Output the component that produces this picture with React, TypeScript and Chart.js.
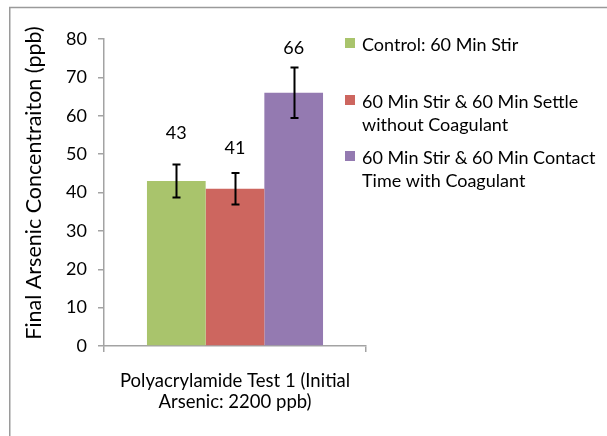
import React, { useEffect, useRef } from "react";
import { Chart, registerables } from "chart.js";

Chart.register(...registerables);

// ---------- data ----------
const categoryLabel = ["Polyacrylamide Test 1 (Initial", "Arsenic: 2200 ppb)"];
const seriesNames = [
  ["Control: 60 Min Stir"],
  ["60 Min Stir & 60 Min Settle", "without Coagulant"],
  ["60 Min Stir & 60 Min Contact", "Time with Coagulant"],
];
const seriesValues = [43, 41, 66];
const seriesErrors = [4.3, 4.1, 6.6];
const seriesColors = ["#A9C46C", "#CD665F", "#947AB1"];
const yTitle = "Final Arsenic Concentraiton (ppb)";
const yMin = 0;
const yMax = 80;
const yStep = 10;

const FONT = "Lato, 'Open Sans', sans-serif";
const AXIS_COLOR = "#a3a3a3";

const decorPlugin = {
  id: "decor",
  beforeDraw(chart: any) {
    const ctx = chart.ctx;
    ctx.save();
    ctx.fillStyle = "#ffffff";
    ctx.fillRect(0, 0, chart.width, chart.height);
    ctx.strokeStyle = "#9a9a9a";
    ctx.lineWidth = 1.5;
    ctx.beginPath();
    ctx.moveTo(9.75, chart.height + 5);
    ctx.lineTo(9.75, 7.5);
    ctx.lineTo(chart.width + 5, 7.5);
    ctx.stroke();
    ctx.restore();
  },
  afterDatasetsDraw(chart: any, _args: any, opts: any) {
    const ctx = chart.ctx;
    const yScale = chart.scales.y;
    ctx.save();
    chart.data.datasets.forEach((ds: any, i: number) => {
      const meta = chart.getDatasetMeta(i);
      const bar: any = meta.data[0];
      if (!bar) return;
      const v = ds.data[0];
      const e = seriesErrors[i];
      const x = Math.round(bar.x) + 0.5;
      const yTop = yScale.getPixelForValue(v + e);
      const yBot = yScale.getPixelForValue(v - e);
      ctx.strokeStyle = "#000";
      ctx.lineWidth = 2;
      ctx.beginPath();
      ctx.moveTo(x, yTop);
      ctx.lineTo(x, yBot);
      ctx.moveTo(x - 4, yTop);
      ctx.lineTo(x + 4, yTop);
      ctx.moveTo(x - 4, yBot);
      ctx.lineTo(x + 4, yBot);
      ctx.stroke();
      ctx.fillStyle = "#000";
      ctx.font = `18px ${FONT}`;
      ctx.textAlign = "center";
      ctx.textBaseline = "middle";
      ctx.fillText(String(v), bar.x, yTop - opts.labelOffsets[i]);
    });
    ctx.restore();
  },
  afterDraw(chart: any) {
    const ctx = chart.ctx;
    ctx.save();
    // y-axis title
    ctx.translate(34, 183);
    ctx.rotate(-Math.PI / 2);
    ctx.fillStyle = "#000";
    ctx.font = `21.5px ${FONT}`;
    ctx.textAlign = "center";
    ctx.textBaseline = "middle";
    ctx.fillText(yTitle, 0, 0);
    ctx.restore();

    // legend
    ctx.save();
    ctx.font = `18px ${FONT}`;
    ctx.textAlign = "left";
    ctx.textBaseline = "middle";
    const starts = [45, 102, 158];
    const lineH = 23;
    seriesNames.forEach((lines, i) => {
      const y0 = starts[i];
      ctx.fillStyle = seriesColors[i];
      ctx.fillRect(345, y0 - 7, 10, 10);
      ctx.fillStyle = "#000";
      lines.forEach((t, j) => ctx.fillText(t, 362, y0 + j * lineH));
    });
    ctx.restore();
  },
};

export default function App() {
  const ref = useRef<HTMLCanvasElement | null>(null);
  useEffect(() => {
    if (!ref.current) return;
    const chart = new Chart(ref.current, {
      type: "bar",
      data: {
        labels: [categoryLabel],
        datasets: seriesValues.map((v, i) => ({
          label: seriesNames[i].join(" "),
          data: [v],
          backgroundColor: seriesColors[i],
          borderWidth: 0,
          categoryPercentage: 0.672,
          barPercentage: 1,
        })),
      },
      options: {
        responsive: false,
        animation: false,
        devicePixelRatio: 1,
        layout: { padding: { left: 0, top: 39, right: 241, bottom: 0 } },
        plugins: {
          legend: { display: false },
          tooltip: { enabled: false },
          decor: { labelOffsets: [31, 25, 19] },
        } as any,
        scales: {
          x: {
            offset: true,
            grid: {
              display: true,
              offset: true,
              drawOnChartArea: false,
              drawTicks: true,
              tickLength: 6,
              color: AXIS_COLOR,
              lineWidth: 1.5,
            },
            border: { display: true, color: AXIS_COLOR, width: 1.5 },
            ticks: {
              color: "#000",
              font: { family: FONT, size: 18.5, lineHeight: 21 / 18.5 },
              padding: 19,
              maxRotation: 0,
              autoSkip: false,
            },
            afterFit: (s: any) => {
              s.height = 90;
            },
          },
          y: {
            min: yMin,
            max: yMax,
            grid: {
              drawOnChartArea: false,
              drawTicks: true,
              tickLength: 6,
              color: AXIS_COLOR,
              lineWidth: 1.5,
            },
            border: { display: true, color: AXIS_COLOR, width: 1.5 },
            ticks: {
              stepSize: yStep,
              color: "#000",
              font: { family: FONT, size: 18 },
              padding: 11,
            },
            afterFit: (s: any) => {
              s.width = 104;
            },
          },
        },
      },
      plugins: [decorPlugin],
    });
    return () => chart.destroy();
  }, []);
  return (
    <div style={{ position: "fixed", left: 0, top: 0, width: 607, height: 436, background: "#fff" }}>
      <canvas ref={ref} width={607} height={436} style={{ display: "block" }} />
    </div>
  );
}
